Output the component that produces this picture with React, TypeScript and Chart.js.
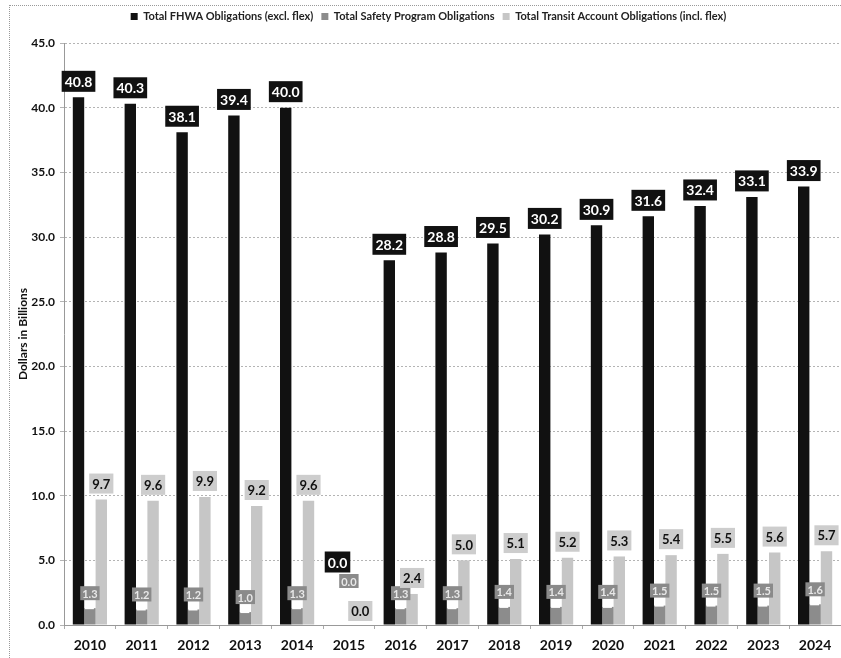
import React, { useEffect, useRef } from "react";
import { Chart, registerables } from "chart.js";

Chart.register(...registerables);

const categories = ["2010", "2011", "2012", "2013", "2014", "2015", "2016", "2017", "2018", "2019", "2020", "2021", "2022", "2023", "2024"];
const fhwaValues = [40.8, 40.3, 38.1, 39.4, 40.0, 0.0, 28.2, 28.8, 29.5, 30.2, 30.9, 31.6, 32.4, 33.1, 33.9];
const safetyValues = [1.3, 1.2, 1.2, 1.0, 1.3, 0.0, 1.3, 1.3, 1.4, 1.4, 1.4, 1.5, 1.5, 1.5, 1.6];
const transitValues = [9.7, 9.6, 9.9, 9.2, 9.6, 0.0, 2.4, 5.0, 5.1, 5.2, 5.3, 5.4, 5.5, 5.6, 5.7];
const seriesNames = [
  "Total FHWA Obligations (excl. flex)",
  "Total Safety Program Obligations",
  "Total Transit Account Obligations (incl. flex)",
];
const yTicks = [0, 5, 10, 15, 20, 25, 30, 35, 40, 45];

const FONT = "Lato, 'Open Sans', sans-serif";

const legendSpacer = {
  id: "legendSpacer",
  beforeInit(chart: any) {
    const legend = chart.legend;
    if (!legend) return;
    const orig = legend.fit;
    legend.fit = function fit() {
      orig.call(this);
      this.height += 11;
    };
  },
};

const labelPlugin = {
  id: "boxLabels",
  afterDatasetsDraw(chart: any) {
    const ctx = chart.ctx;
    const base = chart.scales.y.getPixelForValue(0);
    const styles = [
      { fill: "#111111", text: "#ffffff", size: 14, h: 21, pad: 3, off: 16, zero: 63 },
      { fill: "#8a8a8a", text: "#e8e8e8", size: 11, h: 14, pad: 2, off: 15, zero: 44 },
      { fill: "#cdcdcd", text: "#111111", size: 13, h: 20, pad: 3, off: 16, zero: 14 },
    ];
    ctx.save();
    chart.data.datasets.forEach((ds: any, i: number) => {
      const meta = chart.getDatasetMeta(i);
      const st = styles[i];
      meta.data.forEach((bar: any, j: number) => {
        const v = ds.data[j] as number;
        const text = v.toFixed(1);
        ctx.font = `bold ${st.size}px ${FONT}`;
        const tw = ctx.measureText(text).width;
        const w = tw + st.pad * 2;
        const cy = v === 0 ? base - st.zero : bar.y - st.off;
        if (i === 1 && v > 0) {
          ctx.fillStyle = "#ffffff";
          ctx.fillRect(bar.x - 5, bar.y - 2, 9, 3);
        }
        ctx.fillStyle = st.fill;
        ctx.fillRect(bar.x - w / 2, cy - st.h / 2, w, st.h);
        ctx.fillStyle = st.text;
        ctx.textAlign = "center";
        ctx.textBaseline = "middle";
        ctx.fillText(text, bar.x, cy + 1);
      });
    });
    ctx.restore();
  },
};

export default function App() {
  const ref = useRef<HTMLCanvasElement | null>(null);
  useEffect(() => {
    if (!ref.current) return;
    const chart = new Chart(ref.current, {
      type: "bar",
      data: {
        labels: categories,
        datasets: [
          { label: seriesNames[0], data: fhwaValues, backgroundColor: "#111111" },
          { label: seriesNames[1], data: safetyValues, backgroundColor: "#8c8c8c" },
          { label: seriesNames[2], data: transitValues, backgroundColor: "#c6c6c6" },
        ],
      },
      options: {
        responsive: false,
        animation: false,
        layout: { padding: { top: 3, left: 16, right: 0, bottom: 0 } },
        datasets: { bar: { categoryPercentage: 0.66, barPercentage: 1.0 } },
        plugins: {
          tooltip: { enabled: false },
          legend: {
            position: "top",
            labels: {
              boxWidth: 7,
              boxHeight: 7,
              padding: 8,
              color: "#222",
              font: { family: FONT, size: 11, weight: "bold" },
            },
          },
        },
        scales: {
          x: {
            afterFit(scale: any) {
              scale.height = 33;
            },
            grid: {
              display: true,
              drawOnChartArea: false,
              offset: true,
              tickLength: 4,
              color: "#aaaaaa",
            },
            border: { display: true, color: "#999999", dash: [2, 2] },
            ticks: {
              color: "#111",
              padding: 8,
              font: { family: FONT, size: 14, weight: "bold" },
            },
          },
          y: {
            min: 0,
            max: 45,
            afterFit(scale: any) {
              scale.width = 48;
            },
            afterBuildTicks(scale: any) {
              scale.ticks = yTicks.map((v) => ({ value: v }));
            },
            grid: { color: "#b4b4b4", tickLength: 4 },
            border: { display: true, color: "#999999", dash: [2, 2] },
            ticks: {
              color: "#111",
              padding: 5,
              font: { family: FONT, size: 12, weight: "bold" },
              callback: (v: any) => Number(v).toFixed(1),
            },
            title: {
              display: true,
              text: "Dollars in Billions",
              color: "#111",
              padding: { top: 0, bottom: 4 },
              font: { family: FONT, size: 12, weight: "bold" },
            },
          },
        },
      } as any,
      plugins: [legendSpacer, labelPlugin],
    });
    return () => chart.destroy();
  }, []);
  return (
    <div style={{ position: "fixed", left: 0, top: 0, width: 841, height: 658, background: "#fff" }}>
      <div
        style={{
          position: "absolute",
          left: 9,
          top: 5,
          right: 0,
          bottom: 0,
          borderLeft: "1px dotted #999",
          borderTop: "1px dotted #999",
        }}
      />
      <canvas ref={ref} width={841} height={658} style={{ position: "absolute", left: 0, top: 0, display: "block" }} />
    </div>
  );
}
